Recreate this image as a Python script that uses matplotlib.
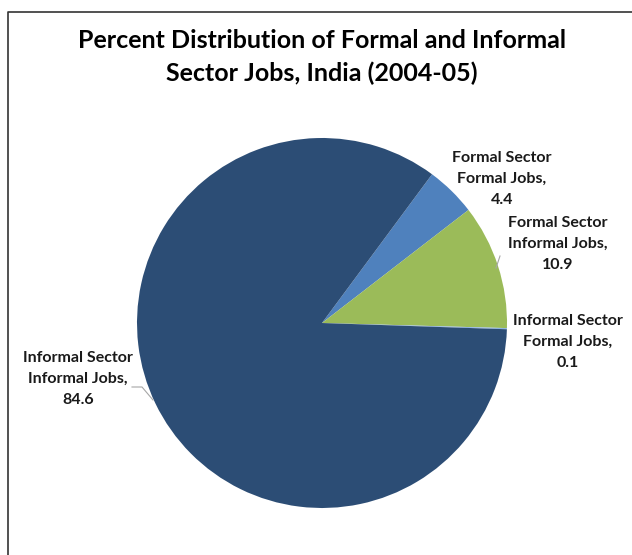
import matplotlib

matplotlib.use("Agg")
import matplotlib.pyplot as plt
from matplotlib.lines import Line2D

# data
labels = [
    "Formal Sector\nFormal Jobs,",
    "Formal Sector\nInformal Jobs,",
    "Informal Sector\nFormal Jobs,",
    "Informal Sector\nInformal Jobs,",
]
values = [4.4, 10.9, 0.1, 84.6]
colors = ["#4F81BD", "#9BBB59", "#8DB4E2", "#2C4D75"]

W, H = 632, 555
plt.rcParams["font.family"] = ["Lato", "DejaVu Sans"]

fig = plt.figure(figsize=(W / 100, H / 100), dpi=100)

# pie axes: centre (322, 323) px, radius 185 px
cx, cy, r = 322, 323, 185
ax = fig.add_axes([(cx - r) / W, (H - cy - r) / H, 2 * r / W, 2 * r / H])
wedges, _ = ax.pie(values, colors=colors, startangle=53.5, counterclock=False,
                   radius=1.0, wedgeprops=dict(linewidth=0))
ax.set_xlim(-1, 1)
ax.set_ylim(-1, 1)
ax.axis("off")

# label positions in figure pixels (x, y from top)
lab_pos = [(502, 179), (558, 244), (568, 342), (78, 379)]
for lab, v, (px, py) in zip(labels, values, lab_pos):
    fig.text(px / W, 1 - py / H, f"{lab}\n{v}", ha="center", va="center",
             fontsize=11.5, fontweight="bold", linespacing=1.6, color="#1a1a1a")

# leader lines
def px_line(xs, ys):
    fig.lines.append(Line2D([x / W for x in xs], [1 - y / H for y in ys],
                            transform=fig.transFigure, color="#a6a6a6", lw=0.8))

px_line([500, 496], [256, 268])
px_line([132, 142, 153], [387, 387, 400])

# title
fig.text(cx / W, 1 - 57 / H,
         "Percent Distribution of Formal and Informal\nSector Jobs, India (2004-05)",
         ha="center", va="center", fontsize=18, fontweight="bold",
         linespacing=1.5, color="black")

# chart border (cropped at right and bottom)
fig.lines.append(Line2D([8 / W, 8 / W, 1.0], [0.0, 1 - 12 / H, 1 - 12 / H],
                        transform=fig.transFigure, color="#333333", lw=1.2))

fig.savefig("out.png", dpi=100, facecolor="white")
